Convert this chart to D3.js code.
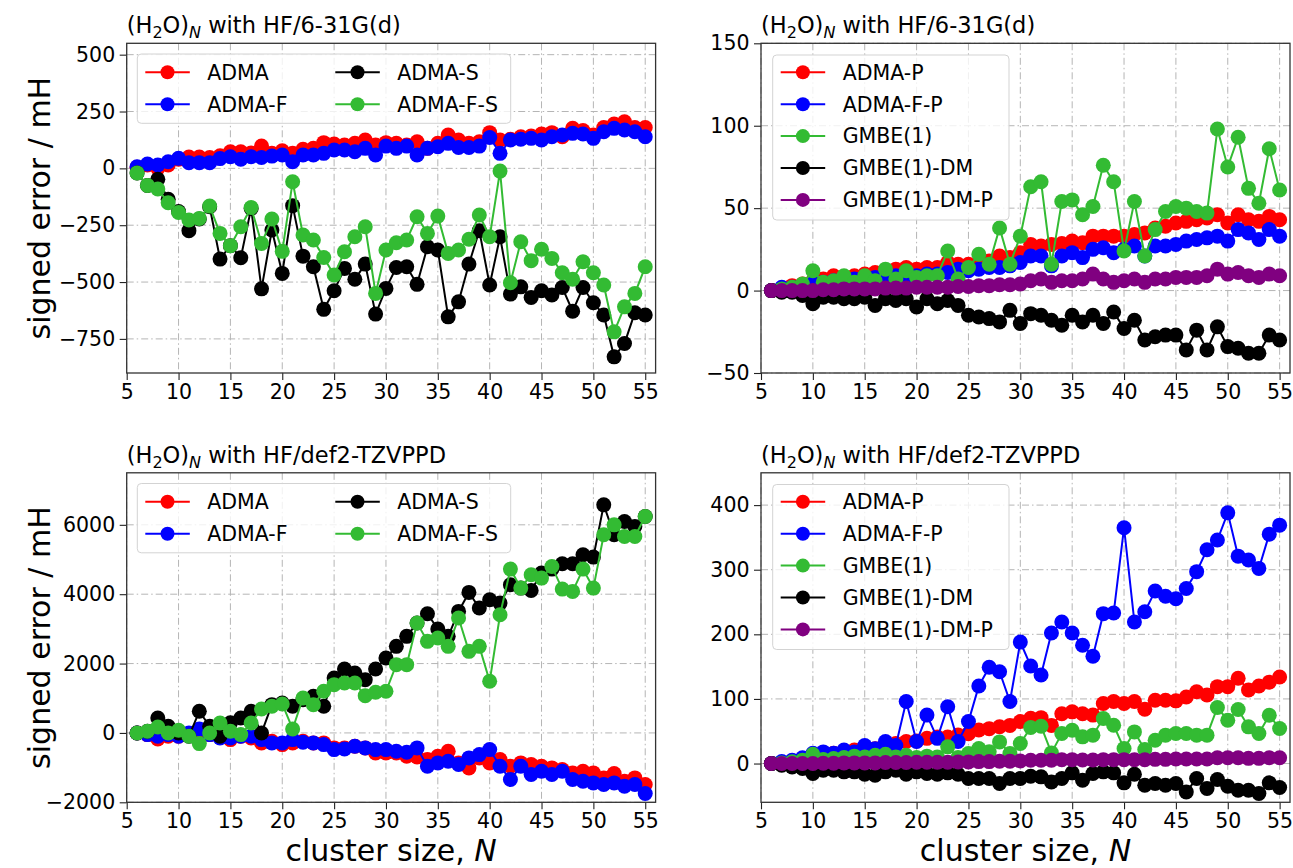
<!DOCTYPE html>
<html>
<head>
<meta charset="utf-8">
<script src="https://cdn.jsdelivr.net/npm/d3@7"></script>
<style>
  body { margin: 0; background: #fff; }
  text { font-family: "DejaVu Sans", sans-serif; fill: #000; }
</style>
</head>
<body>
<script>

// cluster sizes on the x axis
const clusterSizes = [6,7,8,9,10,11,12,13,14,15,16,17,18,19,20,21,22,23,24,25,26,27,28,29,30,
  31,32,33,34,35,36,37,38,39,40,41,42,43,44,45,46,47,48,49,50,51,52,53,54,55];
const xTicks = [5,10,15,20,25,30,35,40,45,50,55];

// top left: HF/6-31G(d)
const tlADMA = [5,15,0,15,40,50,50,48,55,73,73,68,98,66,77,66,84,88,113,107,103,110,125,103,113,
  110,103,117,88,110,147,125,110,117,157,125,128,139,142,151,157,139,176,166,147,180,195,205,180,180];
const tlADMAF = [7,19,15,29,44,25,25,25,43,51,40,51,48,54,59,29,59,59,66,81,81,73,88,59,98,
  88,98,59,88,95,110,92,92,98,136,66,125,128,132,125,139,147,154,151,132,161,176,169,161,139];
const tlADMAS = [-20,-75,-48,-136,-190,-274,-223,-169,-399,-340,-393,-176,-530,-271,-462,-164,-386,-433,-620,-538,-440,-488,-421,-641,-528,
  -436,-433,-510,-345,-359,-653,-587,-421,-274,-513,-301,-553,-521,-568,-538,-557,-524,-628,-524,-591,-645,-829,-770,-635,-645];
const tlADMAFS = [-20,-75,-91,-151,-194,-227,-220,-166,-286,-340,-257,-172,-330,-223,-365,-59,-293,-315,-392,-469,-367,-301,-257,-550,-359,
  -327,-315,-213,-286,-210,-374,-359,-312,-205,-301,-12,-503,-323,-406,-356,-396,-459,-488,-411,-459,-513,-719,-609,-550,-433];

// top right: HF/6-31G(d)
const trADMAP = [0,1,3,4,6,7,9,8,9,10,11,11,13,14,13,14,14,17,16,16,17,18,21,20,23,28,
  27,28,28.5,30,29,33,33,33,33,34,35,38,39,41,42,43,44,46,41,46,43,42,45,43];
const trADMAFP = [0,2,2,3,5,5,6,6,7,7,8,8,9,8,9,10,10,11,13,12,13,14,14,15,17,21,
  21,15,21,23,20,25,26,23,25,27,21,27,27,28,30,31,32,33,30,37,35,31,37,33];
const trGMBE = [0,1,2,4,12,5,6,9,5,9,6,13,7,12,8,9,9,24,7,14,22,16,38,16,33,63,
  66,16,54,55,46,51,76,66,24,54,21,37,48,51,50,48,47,98,75,93,62,53,86,61];
const trGMBEDM = [0,-1,-1,-3,-8,-4,-4,-5,-5,-4,-9,-5,-6,-5,-10,-5,-8,-6,-9,-15,-16,-17,-19,-12,-20,
  -14,-15,-18,-21,-15,-19,-15,-20,-13,-23,-18,-30,-28,-27,-27,-36,-24,-36,-22,-34,-35,-38,-38,-27,-30];
const trGMBEDMP = [0,0,0,0,0,0.5,0.5,1,1,1,1,1.5,1.5,1.5,2,2,2,2,2.5,2.5,3,3,3.5,3.5,4,6,
  7,5,6,6,7,10,7,5,6,7,5,7,7,8,8,8,9,13,10,11,9,8,10,9];

// bottom left: HF/def2-TZVPPD
const blADMA = [0,-48,-173,-96,-96,-48,0,-48,-96,-192,-96,-144,-288,-240,-336,-288,-240,-288,-288,-432,-432,-384,-432,-576,-576,
  -576,-672,-691,-768,-672,-528,-864,-1008,-720,-864,-768,-960,-864,-912,-960,-1008,-1056,-1152,-1104,-1152,-1296,-1171,-1392,-1296,-1488];
const blADMAF = [0,-48,-96,-48,-96,0,115,-48,-144,-144,-96,-96,-192,-288,-288,-192,-269,-288,-336,-480,-461,-384,-432,-480,-480,
  -528,-557,-432,-960,-864,-816,-912,-720,-624,-480,-960,-1344,-960,-1200,-1104,-1200,-1104,-1344,-1392,-1440,-1488,-1440,-1536,-1488,-1747];
const blADMAS = [0,50,432,192,0,-96,624,192,-96,290,432,624,0,816,864,768,960,1056,768,1584,1843,1728,1536,1843,2160,
  2496,2784,3168,3437,2995,2784,3504,4051,3600,3840,3744,4272,4176,4109,4608,4723,4877,4877,5136,5069,6576,5712,6096,5952,6240];
const blADMAFS = [0,48,173,0,77,-96,-307,0,288,48,-48,288,691,768,835,115,1008,816,1200,1392,1440,1440,1075,1171,1200,
  1968,1968,3168,2640,2736,2496,3312,2352,2496,1488,3408,4723,4176,4560,4464,4800,4147,4080,4723,4176,5712,6000,5664,5664,6240];

// bottom right: HF/def2-TZVPPD
const brADMAP = [0,1,4,6,10,13,16,18,21,23,23,28,31,34,35,39,41,41,44,46,52,54,57,59,65,70,
  71,59,77,80,77,75,93,96,93,96,84,98,98,97,103,111,106,119,119,132,114,120,126,134];
const brADMAFP = [0,3,5,9,16,18,16,21,18,28,23,34,28,96,34,75,39,88,34,65,120,149,142,96,188,151,
  137,202,219,202,183,166,232,233,365,219,235,267,259,255,271,297,331,346,388,321,315,302,355,369];
const brGMBE = [0,1,2.6,5.2,14.4,6.2,7.7,9.3,11.4,10.3,12.9,14.4,10.3,12.9,9.3,11.4,10.3,25.8,9.3,15.5,23.2,18.1,33.5,15.5,31,55.7,
  57.8,16.5,46.4,51.6,41.3,43.9,69.7,59.3,23.2,49,21.7,36.1,43.9,46.4,46.4,43.9,43.9,86.7,67.1,83.6,56.8,46.4,74.8,54.2];
const brGMBEDM = [0,-2.6,-5.2,-7.7,-15.5,-10.3,-10.3,-12.9,-12.9,-16.5,-18.1,-12.9,-10.3,-16.5,-12.9,-15.5,-16.5,-14.4,-16.5,-23.2,-23.2,-23.2,-31,-23.2,-23.2,-19.6,
  -20.6,-28.4,-23.2,-14.4,-25.8,-15.5,-12.9,-14.4,-29.9,-16.5,-33.5,-31,-33.5,-31,-43.9,-23.2,-38.7,-24.8,-35.1,-41.3,-41.3,-46.4,-29.9,-37.2];
const brGMBEDMP = [0,0,0,0,0,0.5,0.5,1,1,1,1,1.5,1.5,1.5,2,2,2,2,2.5,2.5,3,3,3.5,3.5,4,5,
  5,5,6,6,5.5,5.5,6,6,6,6,6,6.5,6.5,7,7,7,7,9,9,9,8,8,9,9];

const RED = '#ff0000', BLUE = '#0000ff', BLACK = '#000000', GREEN = '#33bb33', PURPLE = '#800080';

const width = 1293, height = 868;

const svg = d3.select('body').append('svg')
  .attr('width', width)
  .attr('height', height);

const panels = [
  {
    basis: '6-31G(d)', x0: 126.7, x1: 655.6, y0: 43.3, y1: 373,
    yDomain: [-900, 550], yTicks: [-750, -500, -250, 0, 250, 500],
    ylabel: true, xlabel: false, legendCols: 2,
    series: [
      {name: 'ADMA', color: RED, values: tlADMA},
      {name: 'ADMA-F', color: BLUE, values: tlADMAF},
      {name: 'ADMA-S', color: BLACK, values: tlADMAS},
      {name: 'ADMA-F-S', color: GREEN, values: tlADMAFS}
    ]
  },
  {
    basis: '6-31G(d)', x0: 761, x1: 1290, y0: 43.3, y1: 373,
    yDomain: [-50, 150], yTicks: [-50, 0, 50, 100, 150],
    ylabel: false, xlabel: false, legendCols: 1,
    series: [
      {name: 'ADMA-P', color: RED, values: trADMAP},
      {name: 'ADMA-F-P', color: BLUE, values: trADMAFP},
      {name: 'GMBE(1)', color: GREEN, values: trGMBE},
      {name: 'GMBE(1)-DM', color: BLACK, values: trGMBEDM},
      {name: 'GMBE(1)-DM-P', color: PURPLE, values: trGMBEDMP}
    ]
  },
  {
    basis: 'def2-TZVPPD', x0: 126.7, x1: 655.6, y0: 472.8, y1: 802.3,
    yDomain: [-2000, 7500], yTicks: [-2000, 0, 2000, 4000, 6000],
    ylabel: true, xlabel: true, legendCols: 2,
    series: [
      {name: 'ADMA', color: RED, values: blADMA},
      {name: 'ADMA-F', color: BLUE, values: blADMAF},
      {name: 'ADMA-S', color: BLACK, values: blADMAS},
      {name: 'ADMA-F-S', color: GREEN, values: blADMAFS}
    ]
  },
  {
    basis: 'def2-TZVPPD', x0: 761, x1: 1290, y0: 472.8, y1: 802.3,
    yDomain: [-60, 450], yTicks: [0, 100, 200, 300, 400],
    ylabel: false, xlabel: true, legendCols: 1,
    series: [
      {name: 'ADMA-P', color: RED, values: brADMAP},
      {name: 'ADMA-F-P', color: BLUE, values: brADMAFP},
      {name: 'GMBE(1)', color: GREEN, values: brGMBE},
      {name: 'GMBE(1)-DM', color: BLACK, values: brGMBEDM},
      {name: 'GMBE(1)-DM-P', color: PURPLE, values: brGMBEDMP}
    ]
  }
];

var drawPanel = function(p) {

  const x = d3.scaleLinear().domain([5, 56]).range([p.x0, p.x1]);
  const y = d3.scaleLinear().domain(p.yDomain).range([p.y1, p.y0]);

  const g = svg.append('g');

  // dash-dot grid
  g.selectAll('.gx').data(xTicks).enter().append('line')
    .attr('x1', d => x(d)).attr('x2', d => x(d))
    .attr('y1', p.y0).attr('y2', p.y1)
    .attr('stroke', '#b5b5b5').attr('stroke-width', 1)
    .attr('stroke-dasharray', '7,3,1.5,3');
  g.selectAll('.gy').data(p.yTicks).enter().append('line')
    .attr('x1', p.x0).attr('x2', p.x1)
    .attr('y1', d => y(d)).attr('y2', d => y(d))
    .attr('stroke', '#b5b5b5').attr('stroke-width', 1)
    .attr('stroke-dasharray', '7,3,1.5,3');

  // axes (plain integers, unicode minus, no thousands comma)
  const xa = g.append('g')
    .attr('transform', `translate(0,${p.y1})`)
    .call(d3.axisBottom(x).tickValues(xTicks).tickSize(7).tickPadding(4).tickSizeOuter(0));
  const ya = g.append('g')
    .attr('transform', `translate(${p.x0},0)`)
    .call(d3.axisLeft(y).tickValues(p.yTicks).tickFormat(d3.format('d'))
      .tickSize(7).tickPadding(4.5).tickSizeOuter(0));
  [xa, ya].forEach(a => {
    a.select('.domain').remove();
    a.attr('font-size', 20.5).attr('font-family', '"DejaVu Sans", sans-serif');
    a.selectAll('line').attr('stroke', '#222').attr('stroke-width', 1.1);
    a.selectAll('text').attr('fill', '#000');
  });

  // series, drawn in legend order so later ones sit on top
  const line = d3.line()
    .x((d, i) => x(clusterSizes[i]))
    .y(d => y(d));

  p.series.forEach(s => {
    const sg = g.append('g');
    sg.append('path')
      .attr('d', line(s.values))
      .attr('fill', 'none')
      .attr('stroke', s.color)
      .attr('stroke-width', 2);
    sg.selectAll('circle').data(s.values).enter().append('circle')
      .attr('cx', (d, i) => x(clusterSizes[i]))
      .attr('cy', d => y(d))
      .attr('r', 7.5)
      .attr('fill', s.color);
  });

  // frame
  g.append('rect')
    .attr('x', p.x0).attr('y', p.y0)
    .attr('width', p.x1 - p.x0).attr('height', p.y1 - p.y0)
    .attr('fill', 'none').attr('stroke', '#333').attr('stroke-width', 1.3);

  // legend
  const rowGap = 31.9;
  const leg = g.append('g');
  let boxW, rows, colX;
  if (p.legendCols === 2) {
    boxW = 373.4; rows = 2; colX = [0, 190];
  } else {
    boxW = 236.3; rows = p.series.length; colX = [0];
  }
  const bx = p.x0 + (p.legendCols === 2 ? 10.6 : 11.7);
  const by = p.y0 + (p.legendCols === 2 ? 10.7 : 11.7);
  const boxH = p.legendCols === 2 ? 69.3 : 165;
  leg.append('rect')
    .attr('x', bx).attr('y', by)
    .attr('width', boxW).attr('height', boxH)
    .attr('rx', 4)
    .attr('fill', '#fff').attr('fill-opacity', 0.8)
    .attr('stroke', '#d3d3d3').attr('stroke-width', 1);
  p.series.forEach((s, i) => {
    const col = Math.floor(i / rows), row = i % rows;
    const hx = bx + 8 + colX[col];
    const hy = p.y0 + 29 + row * rowGap;
    leg.append('line')
      .attr('x1', hx).attr('x2', hx + 44.5)
      .attr('y1', hy).attr('y2', hy)
      .attr('stroke', s.color).attr('stroke-width', 2);
    leg.append('circle')
      .attr('cx', hx + 22.2).attr('cy', hy).attr('r', 7)
      .attr('fill', s.color);
    leg.append('text')
      .attr('x', hx + 62).attr('y', hy + 7.3)
      .attr('font-size', 20.5)
      .text(s.name);
  });

  // title: (H2O)N with HF/basis
  const t = g.append('text')
    .attr('x', p.x0).attr('y', p.y0 - 10)
    .attr('font-size', 22.5);
  t.append('tspan').text('(H');
  t.append('tspan').attr('font-size', 16).attr('dy', 5).text('2');
  t.append('tspan').attr('dy', -5).text('O)');
  t.append('tspan').attr('font-size', 16).attr('font-style', 'italic').attr('dy', 5).text('N');
  t.append('tspan').attr('dy', -5).text(' with HF/' + p.basis);

  if (p.ylabel) {
    g.append('text')
      .attr('transform', `translate(${p.x0 - 77},${(p.y0 + p.y1) / 2}) rotate(-90)`)
      .attr('text-anchor', 'middle')
      .attr('font-size', 30)
      .text('signed error / mH');
  }
  if (p.xlabel) {
    const xl = g.append('text')
      .attr('x', (p.x0 + p.x1) / 2).attr('y', p.y1 + 58.2)
      .attr('text-anchor', 'middle')
      .attr('font-size', 30);
    xl.append('tspan').text('cluster size, ');
    xl.append('tspan').attr('font-style', 'italic').text('N');
  }
};

panels.forEach(drawPanel);

</script>
</body>
</html>
